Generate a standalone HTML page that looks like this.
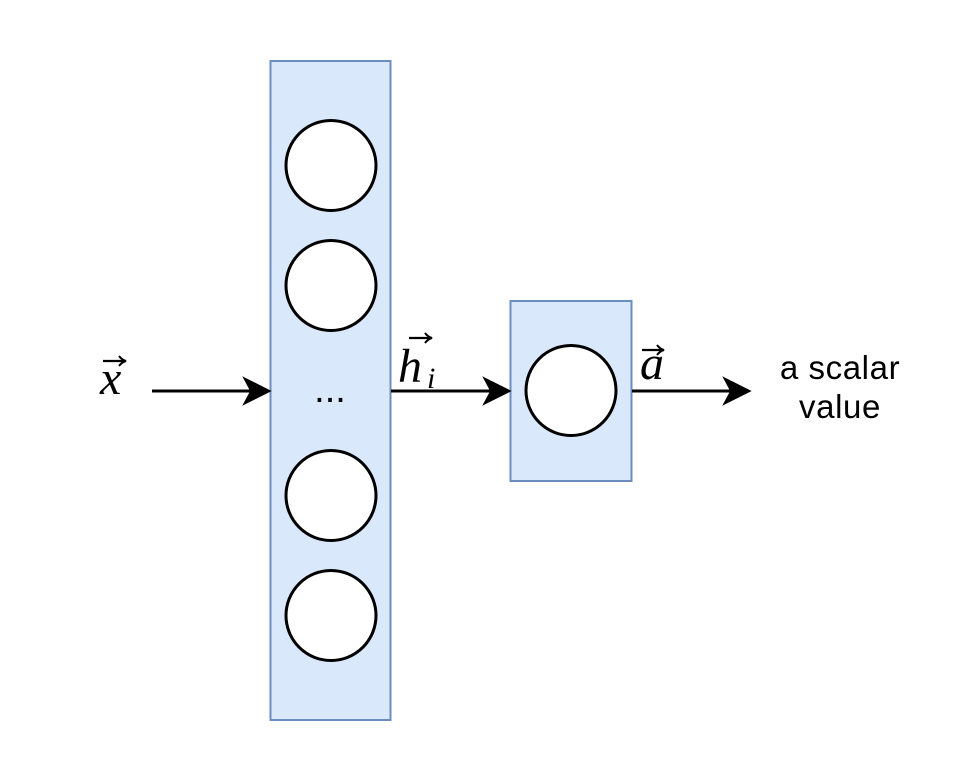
<!DOCTYPE html>
<html>
<head>
<meta charset="utf-8">
<style>
  html, body { margin: 0; padding: 0; background: #ffffff; }
  body { width: 963px; height: 783px; overflow: hidden; }
  svg { display: block; }
  .txt { font-family: "Liberation Sans", Helvetica, Arial, sans-serif; font-size: 33px; fill: #000; letter-spacing: 0.6px; }
  .math { font-family: "Liberation Serif", "Times New Roman", serif; font-style: italic; fill: #000; }
</style>
</head>
<body>
<svg width="963" height="783" viewBox="0 0 963 783" xmlns="http://www.w3.org/2000/svg">
  <rect x="0" y="0" width="963" height="783" fill="#ffffff"/>

  <!-- big layer rect -->
  <rect x="270.5" y="61" width="120" height="659" fill="#dae8fc" stroke="#6c8ebf" stroke-width="2"/>
  <circle cx="331" cy="165.5" r="45" fill="#ffffff" stroke="#000" stroke-width="3"/>
  <circle cx="331" cy="285.5" r="45" fill="#ffffff" stroke="#000" stroke-width="3"/>
  <circle cx="331" cy="495.5" r="45" fill="#ffffff" stroke="#000" stroke-width="3"/>
  <circle cx="331" cy="615.5" r="45" fill="#ffffff" stroke="#000" stroke-width="3"/>
  <text x="330" y="402" text-anchor="middle" style="font-family:'Liberation Sans',Arial,sans-serif;font-size:38px;fill:#000;">...</text>

  <!-- small rect -->
  <rect x="510.5" y="301" width="121" height="180" fill="#dae8fc" stroke="#6c8ebf" stroke-width="2"/>
  <circle cx="571" cy="390.5" r="45" fill="#ffffff" stroke="#000" stroke-width="3"/>

  <!-- arrow 1 -->
  <line x1="152" y1="391" x2="254" y2="391" stroke="#000" stroke-width="3"/>
  <path d="M270,391 L244,378 L251,391 L244,404 Z" fill="#000" stroke="#000" stroke-width="1.5" stroke-linejoin="miter"/>

  <!-- arrow 2 -->
  <line x1="391" y1="391" x2="494" y2="391" stroke="#000" stroke-width="3"/>
  <path d="M510,391 L484,378 L491,391 L484,404 Z" fill="#000" stroke="#000" stroke-width="1.5"/>

  <!-- arrow 3 -->
  <line x1="632" y1="391" x2="734" y2="391" stroke="#000" stroke-width="3"/>
  <path d="M750,391 L724,378 L731,391 L724,404 Z" fill="#000" stroke="#000" stroke-width="1.5"/>

  <!-- x vector -->
  <text x="100" y="394" class="math" font-size="48">x</text>
  <line x1="103" y1="361" x2="125" y2="361" stroke="#000" stroke-width="2.2"/>
  <path d="M119,356 Q122,360 126,361 Q122,362 119,366" fill="none" stroke="#000" stroke-width="2"/>

  <!-- h_i vector -->
  <text x="398" y="382" class="math" font-size="48">h</text>
  <text x="427" y="388" class="math" font-size="30">i</text>
  <line x1="409" y1="338" x2="431" y2="338" stroke="#000" stroke-width="2.2"/>
  <path d="M425,333 Q428,337 432,338 Q428,339 425,343" fill="none" stroke="#000" stroke-width="2"/>

  <!-- a vector -->
  <text x="640" y="379" class="math" font-size="48">a</text>
  <line x1="642" y1="350" x2="663" y2="350" stroke="#000" stroke-width="2.2"/>
  <path d="M657,345 Q660,349 664,350 Q660,351 657,355" fill="none" stroke="#000" stroke-width="2"/>

  <!-- output label -->
  <text x="840" y="379" text-anchor="middle" class="txt">a scalar</text>
  <text x="840" y="418" text-anchor="middle" class="txt">value</text>
</svg>
</body>
</html>
